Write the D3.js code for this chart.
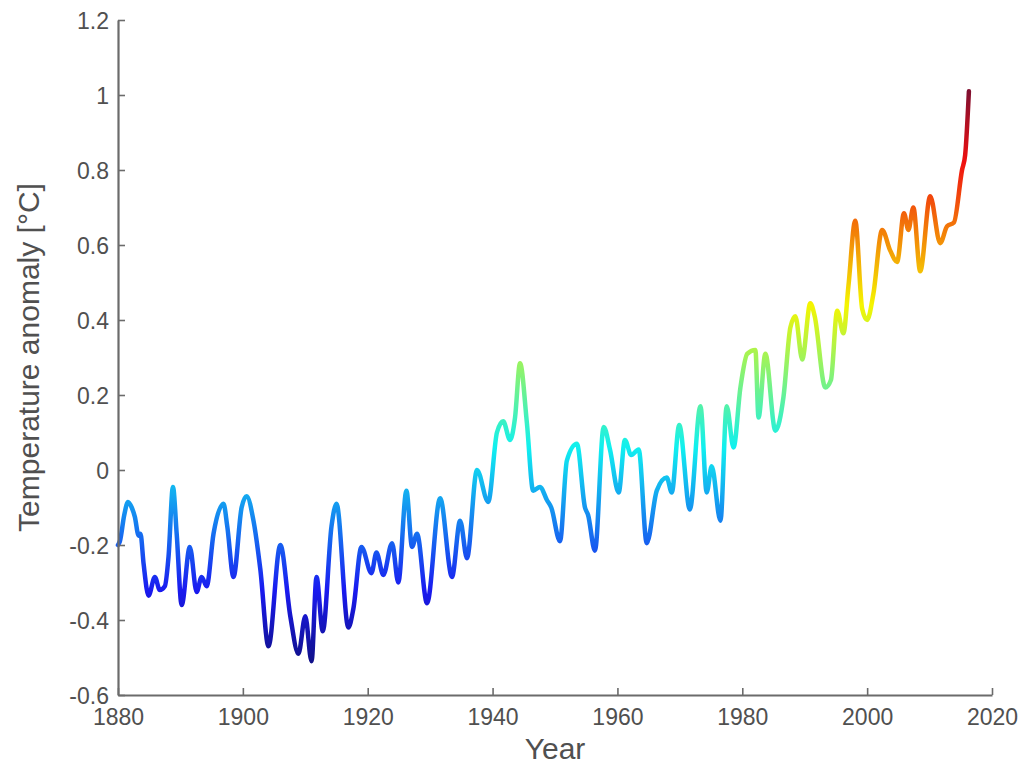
<!DOCTYPE html>
<html>
<head>
<meta charset="utf-8">
<script src="https://cdn.jsdelivr.net/npm/d3@7"></script>
<style>
  html, body { margin: 0; padding: 0; background: #ffffff; }
  svg { display: block; font-family: "Liberation Sans", Arial, sans-serif; }
</style>
</head>
<body>
<svg id="chart" width="1024" height="770"></svg>
<script>
// ---- data ----
const years = [
  1880.0, 1880.3, 1881.0, 1881.6, 1882.2, 1882.7, 1883.3, 1883.6, 1884.1, 1884.9,
  1885.9, 1886.7, 1887.5, 1888.1, 1888.8, 1889.4, 1890.2, 1891.5, 1892.6, 1893.4,
  1894.2, 1895.3, 1896.9, 1897.5, 1898.5, 1899.8, 1900.6, 1901.7, 1902.8, 1904.1,
  1906.0, 1907.6, 1908.9, 1910.0, 1911.0, 1911.8, 1912.8, 1914.2, 1915.0, 1916.9,
  1917.7, 1919.0, 1920.6, 1921.4, 1922.5, 1923.9, 1924.9, 1926.2, 1927.1, 1927.9,
  1929.5, 1931.6, 1933.5, 1934.8, 1935.9, 1937.5, 1939.3, 1940.7, 1941.7, 1942.8,
  1943.6, 1944.4, 1945.5, 1946.5, 1947.6, 1948.7, 1949.4, 1950.8, 1951.9, 1953.5,
  1954.8, 1955.3, 1956.4, 1957.8, 1958.8, 1960.2, 1961.2, 1962.2, 1963.4, 1964.7,
  1966.3, 1967.9, 1968.7, 1969.9, 1971.6, 1973.3, 1974.3, 1975.1, 1976.5, 1977.5,
  1978.6, 1979.7, 1980.8, 1982.1, 1982.6, 1983.7, 1985.3, 1986.6, 1987.7, 1988.5,
  1989.6, 1990.9, 1991.6, 1993.3, 1994.2, 1995.2, 1996.2, 1997.0, 1998.1, 1999.2,
  2000.0, 2001.0, 2002.4, 2003.7, 2004.8, 2005.9, 2006.6, 2007.4, 2008.5, 2010.1,
  2011.7, 2012.8, 2013.9, 2015.2, 2015.7, 2016.3
];
const anomalies = [
  -0.20, -0.19, -0.12, -0.085, -0.10, -0.125, -0.175, -0.17, -0.25, -0.335,
  -0.285, -0.32, -0.31, -0.23, -0.045, -0.17, -0.36, -0.205, -0.325, -0.285,
  -0.31, -0.17, -0.09, -0.15, -0.285, -0.10, -0.07, -0.135, -0.265, -0.47,
  -0.20, -0.39, -0.49, -0.39, -0.51, -0.285, -0.43, -0.15, -0.09, -0.42,
  -0.37, -0.205, -0.275, -0.22, -0.28, -0.195, -0.30, -0.055, -0.205, -0.17,
  -0.355, -0.075, -0.285, -0.135, -0.235, 0.0, -0.085, 0.10, 0.13, 0.08,
  0.14, 0.285, 0.125, -0.055, -0.045, -0.08, -0.10, -0.19, 0.025, 0.07,
  -0.10, -0.12, -0.215, 0.115, 0.055, -0.06, 0.08, 0.04, 0.055, -0.195,
  -0.055, -0.02, -0.06, 0.12, -0.105, 0.17, -0.06, 0.01, -0.135, 0.17,
  0.06, 0.22, 0.31, 0.32, 0.14, 0.31, 0.105, 0.195, 0.38, 0.41,
  0.295, 0.445, 0.41, 0.22, 0.24, 0.425, 0.365, 0.49, 0.665, 0.43,
  0.40, 0.47, 0.64, 0.585, 0.555, 0.685, 0.64, 0.70, 0.53, 0.73,
  0.605, 0.65, 0.66, 0.80, 0.84, 1.01
];
const xTicks = [1880, 1900, 1920, 1940, 1960, 1980, 2000, 2020];
const yTicks = [-0.6, -0.4, -0.2, 0, 0.2, 0.4, 0.6, 0.8, 1, 1.2];
const xLabel = "Year";
const yLabel = "Temperature anomaly [°C]";
// jet colormap stops
const jetStops = [
  [0.000, "#10108a"], [0.125, "#1a1af0"], [0.375, "#10f0f0"],
  [0.625, "#f5f500"], [0.875, "#f01010"], [1.000, "#801030"]
];

// ---- layout ----
const mLeft = 118, mRight = 992, mTop = 20, mBottom = 695;
const svg = d3.select("#chart");
const x = d3.scaleLinear().domain([1880, 2020]).range([mLeft, mRight]);
const y = d3.scaleLinear().domain([-0.6, 1.2]).range([mBottom, mTop]);

const data = years.map((yr, i) => ({ yr, v: anomalies[i] }));

// gradient coloured by value
const [vmin, vmax] = d3.extent(anomalies);
const defs = svg.append("defs");
const grad = defs.append("linearGradient")
  .attr("id", "jet")
  .attr("gradientUnits", "userSpaceOnUse")
  .attr("x1", 0).attr("x2", 0)
  .attr("y1", y(vmin)).attr("y2", y(vmax));
grad.selectAll("stop").data(jetStops).join("stop")
  .attr("offset", d => d[0])
  .attr("stop-color", d => d[1]);

// line
const line = d3.line()
  .x(d => x(d.yr))
  .y(d => y(d.v))
  .curve(d3.curveMonotoneX);
svg.append("path")
  .datum(data)
  .attr("d", line)
  .attr("fill", "none")
  .attr("stroke", "url(#jet)")
  .attr("stroke-width", 4.5)
  .attr("stroke-linejoin", "round")
  .attr("stroke-linecap", "round");

// axes (ticks pointing inward, MATLAB style)
const axisColor = "#6b6b6b";
const textColor = "#505050";
const xAxis = d3.axisBottom(x).tickValues(xTicks).tickSizeInner(-7).tickSizeOuter(0)
  .tickPadding(18).tickFormat(d3.format("d"));
const gx = svg.append("g").attr("transform", `translate(0,${mBottom})`).call(xAxis);
const yAxis = d3.axisLeft(y).tickValues(yTicks).tickSizeInner(-7).tickSizeOuter(0)
  .tickPadding(18).tickFormat(d => String(+d.toFixed(1)));
const gy = svg.append("g").attr("transform", `translate(${mLeft},0)`).call(yAxis);

[gx, gy].forEach(g => {
  g.select(".domain").attr("stroke", axisColor).attr("stroke-width", 2.2);
  g.selectAll(".tick line").attr("stroke", axisColor).attr("stroke-width", 1.6);
  g.selectAll(".tick text")
    .attr("fill", textColor)
    .style("font-size", "23px")
    .style("font-family", "'Liberation Sans', Arial, sans-serif");
});
gy.selectAll(".tick text").attr("x", -9).attr("dy", "0.36em");
gx.selectAll(".tick text").attr("y", 9).attr("dy", "0.9em");

// axis labels
svg.append("text")
  .attr("x", (mLeft + mRight) / 2)
  .attr("y", 759)
  .attr("text-anchor", "middle")
  .attr("fill", textColor)
  .style("font-size", "30px")
  .text(xLabel);

svg.append("text")
  .attr("transform", `translate(39,${(mTop + mBottom) / 2}) rotate(-90)`)
  .attr("text-anchor", "middle")
  .attr("fill", textColor)
  .style("font-size", "30px")
  .text(yLabel);
</script>
</body>
</html>
